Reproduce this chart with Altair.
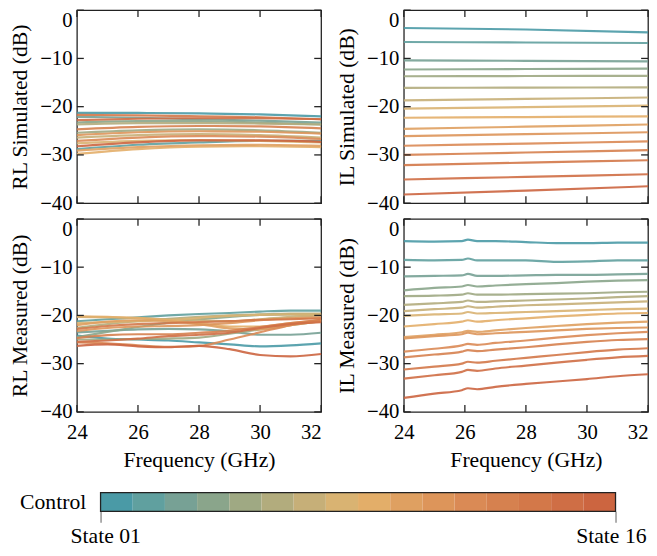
import altair as alt
import pandas as pd

FONT = "Liberation Serif"

states = ["State 01", "State 02", "State 03", "State 04", "State 05", "State 06",
          "State 07", "State 08", "State 09", "State 10", "State 11", "State 12",
          "State 13", "State 14", "State 15", "State 16"]
colors = ["#4a9aa6", "#60a09f", "#77a195", "#8aa58b", "#9fa983", "#b2ac7d",
          "#c6af78", "#d9b372", "#e3ae69", "#dfa061", "#dd955a", "#da8a55",
          "#d6814f", "#d37849", "#cf6e45", "#cc6540"]

x_ticks = [24, 26, 28, 30, 32]
y_ticks = [0, -10, -20, -30, -40]

# RL simulated (dB) at these frequencies (GHz)
freq_rl_sim = [24, 26, 28, 30, 32]
rl_sim = [
    [-21.3, -21.3, -21.4, -21.6, -22.0],
    [-28.8, -27.9, -27.4, -27.1, -27.1],
    [-22.1, -22.3, -22.6, -22.9, -23.3],
    [-23.3, -23.0, -23.0, -23.3, -23.7],
    [-25.4, -24.9, -24.7, -24.9, -25.4],
    [-23.7, -23.4, -23.4, -23.5, -23.7],
    [-26.4, -25.9, -25.7, -25.9, -26.4],
    [-27.6, -27.1, -26.9, -27.1, -27.4],
    [-29.8, -28.8, -28.3, -28.2, -28.4],
    [-29.1, -28.4, -28.0, -27.9, -28.1],
    [-25.9, -25.3, -25.1, -25.2, -25.6],
    [-27.1, -26.4, -26.1, -26.2, -26.7],
    [-24.7, -24.2, -24.0, -24.1, -24.5],
    [-21.7, -21.8, -22.0, -22.2, -22.6],
    [-22.8, -22.5, -22.4, -22.4, -22.6],
    [-28.2, -27.4, -27.0, -27.0, -27.3],
]

# IL simulated (dB)
freq_il_sim = [24, 28, 32]
il_sim = [
    [-3.7, -4.0, -4.6],
    [-6.6, -6.7, -6.8],
    [-10.4, -10.5, -10.6],
    [-12.3, -12.2, -12.1],
    [-13.7, -13.65, -13.6],
    [-16.1, -16.05, -16.0],
    [-18.7, -18.4, -18.1],
    [-20.4, -20.1, -19.8],
    [-22.3, -22.15, -22.0],
    [-24.6, -24.15, -23.7],
    [-26.1, -25.7, -25.3],
    [-28.1, -27.65, -27.2],
    [-30.0, -29.5, -29.0],
    [-32.1, -31.6, -31.1],
    [-35.1, -34.55, -34.0],
    [-38.2, -37.4, -36.5],
]

# RL measured (dB)
freq_rl_meas = [24, 25, 26, 27, 28, 29, 30, 31, 32]
rl_meas = [
    [-24.2, -24.8, -25.0, -25.2, -25.6, -26.0, -26.4, -26.2, -25.8],
    [-21.2, -20.8, -20.4, -20.0, -19.7, -19.5, -19.2, -19.0, -19.0],
    [-23.5, -23.2, -22.9, -22.8, -22.9, -23.3, -24.0, -24.0, -23.6],
    [-24.5, -23.4, -22.4, -21.5, -20.8, -20.3, -19.9, -19.8, -19.9],
    [-25.0, -25.0, -24.9, -24.8, -24.6, -23.8, -22.9, -22.0, -21.2],
    [-22.6, -21.8, -21.2, -20.7, -20.3, -20.0, -19.8, -19.6, -19.6],
    [-20.3, -20.4, -20.6, -20.8, -21.0, -21.2, -20.8, -20.3, -20.0],
    [-21.6, -21.4, -21.2, -21.0, -20.5, -20.1, -19.9, -19.8, -19.8],
    [-20.2, -20.3, -20.5, -21.0, -21.6, -22.3, -22.3, -21.6, -21.0],
    [-22.0, -21.3, -21.0, -21.2, -21.8, -22.7, -22.9, -22.0, -21.2],
    [-23.2, -22.6, -22.3, -22.2, -22.0, -21.6, -21.0, -20.6, -20.4],
    [-25.6, -25.8, -26.2, -26.5, -26.3, -25.0, -23.5, -22.0, -20.9],
    [-24.7, -24.1, -23.9, -23.9, -23.6, -23.2, -22.4, -21.6, -20.9],
    [-22.8, -22.2, -21.8, -21.6, -21.4, -21.2, -20.9, -20.8, -20.6],
    [-25.5, -25.2, -24.8, -24.3, -24.0, -23.6, -22.6, -21.8, -21.4],
    [-26.3, -26.0, -26.4, -26.6, -26.3, -27.0, -28.2, -28.5, -28.0],
]

# IL measured (dB)
freq_il_meas = [24, 25, 25.9, 26.1, 26.4, 27, 28, 29, 30, 31, 32]
il_meas = [
    [-4.6, -4.7, -4.6, -4.3, -4.6, -4.6, -4.8, -5.0, -5.0, -4.9, -4.9],
    [-8.5, -8.6, -8.5, -8.2, -8.6, -8.6, -8.6, -8.9, -8.8, -8.6, -8.6],
    [-11.9, -11.8, -11.7, -11.4, -11.8, -11.8, -11.7, -11.6, -11.6, -11.5, -11.4],
    [-14.8, -14.3, -14.0, -13.7, -14.0, -13.8, -13.5, -13.3, -13.0, -12.8, -12.7],
    [-16.0, -15.9, -15.7, -15.4, -15.7, -15.7, -15.6, -15.5, -15.4, -15.2, -15.1],
    [-17.8, -17.5, -17.2, -16.9, -17.2, -17.1, -16.9, -16.7, -16.5, -16.2, -16.0],
    [-19.1, -18.7, -18.4, -18.1, -18.4, -18.2, -17.9, -17.7, -17.5, -17.3, -17.1],
    [-20.1, -19.8, -19.6, -19.3, -19.6, -19.5, -19.3, -19.1, -18.9, -18.7, -18.6],
    [-22.3, -21.8, -21.3, -21.0, -21.3, -21.0, -20.6, -20.2, -19.9, -19.6, -19.5],
    [-24.5, -24.0, -23.5, -23.2, -23.4, -23.1, -22.6, -22.2, -21.8, -21.5, -21.3],
    [-24.8, -24.3, -23.9, -23.6, -23.9, -23.7, -23.4, -23.1, -22.8, -22.6, -22.5],
    [-27.5, -26.9, -26.2, -25.9, -26.1, -25.7, -25.2, -24.6, -24.1, -23.7, -23.4],
    [-28.7, -28.1, -27.5, -27.2, -27.4, -27.1, -26.6, -26.0, -25.5, -25.1, -24.9],
    [-31.2, -30.6, -30.0, -29.6, -29.8, -29.4, -28.8, -28.2, -27.6, -27.1, -26.8],
    [-33.1, -32.4, -31.7, -31.3, -31.5, -31.0, -30.4, -29.8, -29.2, -28.7, -28.4],
    [-37.1, -36.2, -35.5, -35.1, -35.3, -34.8, -34.2, -33.7, -33.2, -32.6, -32.2],
]


def to_long(freqs, series):
    rows = []
    for st, vals in zip(states, series):
        for f, v in zip(freqs, vals):
            rows.append({"state": st, "f": f, "v": v})
    return pd.DataFrame(rows)


color_scale = alt.Scale(domain=states, range=colors)
x_scale = alt.Scale(domain=[24, 32], nice=False, zero=False)
y_scale = alt.Scale(domain=[-40, 0], nice=False, zero=False)

W, H = 248, 196
TICK = 7
TICK_COLOR = "#222"

xt_df = pd.DataFrame({"t": x_ticks})
yt_df = pd.DataFrame({"t": y_ticks})


def panel(df, ytitle, show_x):
    if show_x:
        xaxis = alt.Axis(values=x_ticks, ticks=False, tickSize=0, domain=False, grid=False,
                         labelFlush=False, labelPadding=10, titlePadding=7,
                         title="Frequency (GHz)",
                         labelAlign={"condition": {"test": "datum.value >= 32",
                                                   "value": "right"},
                                     "value": "center"})
        tick_x = alt.X("t:Q", scale=x_scale)
    else:
        xaxis = None
        tick_x = alt.X("t:Q", scale=x_scale, axis=None)
    yaxis = alt.Axis(values=y_ticks, ticks=False, tickSize=0, domain=False, grid=False,
                     labelPadding=5, title=ytitle, titlePadding=8,
                     labelBaseline={"condition": {"test": "datum.value >= 0", "value": "top"},
                                    "value": "middle"})
    lines = alt.Chart(df).mark_line(strokeWidth=2.2, opacity=0.9,
                                    interpolate="monotone").encode(
        x=alt.X("f:Q", scale=x_scale, axis=xaxis),
        y=alt.Y("v:Q", scale=y_scale, axis=yaxis),
        color=alt.Color("state:N", scale=color_scale, legend=None),
    )
    yt = alt.Chart(yt_df).mark_rule(color=TICK_COLOR, strokeWidth=1.3)
    xt = alt.Chart(xt_df).mark_rule(color=TICK_COLOR, strokeWidth=1.3)
    tl = yt.encode(y=alt.Y("t:Q", scale=y_scale), x=alt.value(0), x2=alt.value(TICK))
    tr = yt.encode(y=alt.Y("t:Q", scale=y_scale), x=alt.value(W - TICK), x2=alt.value(W))
    tb = xt.encode(x=tick_x, y=alt.value(H - TICK), y2=alt.value(H))
    tt = xt.encode(x=tick_x, y=alt.value(0), y2=alt.value(TICK))
    return alt.layer(lines, tl, tr, tb, tt).properties(width=W, height=H)


p1 = panel(to_long(freq_rl_sim, rl_sim), "RL Simulated (dB)", False)
p2 = panel(to_long(freq_il_sim, il_sim), "IL Simulated (dB)", False)
p3 = panel(to_long(freq_rl_meas, rl_meas), "RL Measured (dB)", True)
p4 = panel(to_long(freq_il_meas, il_meas), "IL Measured (dB)", True)

grid = alt.concat(p1, p2, p3, p4, columns=2, spacing={"row": 3, "column": 8})

# colour bar: its view starts at the panels' left edge; the bar sits 24 px in
n = len(states)
CB_W = 578
cb_df = pd.DataFrame({
    "state": states,
    "x0": list(range(n)),
    "x1": list(range(1, n + 1)),
    "row": ["Control"] * n,
})
frame_df = pd.DataFrame({"x0": [0], "x1": [n], "row": ["Control"]})
cb_x = alt.Scale(domain=[0, n], range=[24, 547], nice=False, zero=False)
cb_y = alt.Scale(paddingInner=0, paddingOuter=0)
cells = alt.Chart(cb_df).mark_rect().encode(
    x=alt.X("x0:Q", scale=cb_x,
            axis=alt.Axis(values=[0, n], tickSize=11, tickColor="#777", tickWidth=1.2,
                          domain=False, grid=False, labelFlush=True, labelFlushOffset=31,
                          labelPadding=4, labelFontSize=22, title=None,
                          labelExpr=f"datum.value == 0 ? '{states[0]}' : '{states[-1]}'")),
    x2="x1:Q",
    y=alt.Y("row:N", scale=cb_y,
            axis=alt.Axis(ticks=False, tickSize=0, domain=False, labelPadding=15, offset=-24,
                          labelFontSize=22, title=None)),
    color=alt.Color("state:N", scale=color_scale, legend=None),
)
outline = alt.Chart(frame_df).mark_rect(fillOpacity=0, stroke="#222", strokeWidth=1.3).encode(
    x=alt.X("x0:Q", scale=cb_x), x2="x1:Q", y=alt.Y("row:N", scale=cb_y),
)
colorbar = alt.layer(cells, outline).properties(
    width=CB_W, height=19, view=alt.ViewBackground(stroke="transparent"))

chart = alt.vconcat(grid, colorbar, spacing=19).properties(
    padding={"left": 0, "top": -4, "right": -5, "bottom": -4}
).configure_axis(
    labelFont=FONT, labelFontSize=21, labelColor="black",
    titleFont=FONT, titleFontSize=22, titleFontWeight="normal", titleColor="black",
).configure_view(stroke="#222", strokeWidth=1.3)

chart.save("out.html", embed_options={"renderer": "svg", "actions": False})
